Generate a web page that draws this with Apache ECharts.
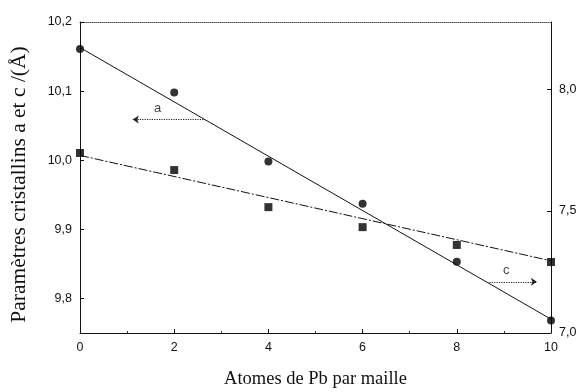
<!DOCTYPE html>
<html lang="fr">
<head>
    <meta charset="utf-8">
    <title>Paramètres cristallins</title>
    <script src="https://cdn.jsdelivr.net/npm/echarts@6/dist/echarts.min.js"></script>
    <style type="text/css">
        html, body { margin: 0; padding: 0; background: #fff; }
        #main { width: 580px; height: 392px; }
    </style>
</head>
<body>
<div id="main"></div>
<script type="text/javascript">
    // valeurs
    const xVals = [0, 2, 4, 6, 8, 10];
    const aVals = [10.161, 10.098, 9.998, 9.937, 9.853, 9.768];   // axe gauche
    const cVals = [7.738, 7.668, 7.516, 7.434, 7.361, 7.291];     // axe droit
    const fitX = [0, 10];
    const aFit = [10.163, 9.770];
    const cFit = [7.728, 7.296];
    const leftTicks = [9.8, 9.9, 10.0, 10.1, 10.2];
    const rightTicks = [7.0, 7.5, 8.0];
    // flèches et étiquettes a / c
    const arrowA = [[2.62, 10.059], [1.12, 10.059]];
    const labelA = [1.65, 10.075];
    const arrowC = [[8.64, 7.21], [9.70, 7.21]];
    const labelC = [9.05, 7.255];

    const comma = function (v) { return v.toFixed(1).replace('.', ','); };
    const tickFont = {fontFamily: 'Liberation Sans', fontSize: 12.5, color: '#111'};

    // étiquette texte seule (point invisible)
    function textMark(name, axis, txt, pos) {
        return {
            name: name, type: 'scatter', yAxisIndex: axis, symbolSize: 1, silent: true,
            itemStyle: {color: 'transparent'},
            label: {show: true, position: 'inside', formatter: txt,
                fontFamily: 'Liberation Sans', fontSize: 13, color: '#111'},
            data: [pos]
        };
    }

    function arrowLine(from, to) {
        return {
            silent: true, symbol: ['none', 'arrow'], symbolSize: 6,
            lineStyle: {color: '#222', type: 'dotted', width: 1.2}, label: {show: false},
            data: [[{coord: from}, {coord: to}]]
        };
    }

    let chart = echarts.init(document.getElementById('main'));
    chart.setOption({
        animation: false,
        grid: {left: 80, right: 29, top: 22, bottom: 59, outerBoundsMode: 'none'},
        xAxis: [{
            type: 'value', min: 0, max: 10, interval: 2,
            name: 'Atomes de Pb par maille', nameLocation: 'middle', nameGap: 37,
            nameTextStyle: {fontFamily: 'Liberation Serif', fontSize: 18.5, color: '#111'},
            axisLine: {onZero: false, lineStyle: {color: '#111', width: 1}},
            axisTick: {inside: true, length: 4, lineStyle: {color: '#111'}},
            minorTick: {show: true, splitNumber: 2, length: 2, lineStyle: {color: '#333'}},
            axisLabel: Object.assign({margin: 8}, tickFont),
            splitLine: {show: false}
        }, {
            type: 'value', min: 0, max: 10, position: 'top',
            axisLine: {show: true, onZero: false, lineStyle: {color: '#555', type: 'dotted', width: 1}},
            axisTick: {show: false}, axisLabel: {show: false}, splitLine: {show: false}
        }],
        yAxis: [{
            type: 'value', min: 9.75, max: 10.2, position: 'left',
            name: 'Paramètres cristallins a et c /(Å)', nameLocation: 'middle', nameGap: 50,
            nameTextStyle: {fontFamily: 'Liberation Serif', fontSize: 21.5, color: '#111', padding: [0, 14, 0, 0]},
            axisLine: {show: true, onZero: false, lineStyle: {color: '#111', width: 1}},
            axisTick: {inside: true, length: 4, customValues: leftTicks, lineStyle: {color: '#111'}},
            axisLabel: Object.assign({margin: 8, customValues: leftTicks, formatter: comma}, tickFont),
            splitLine: {show: false}
        }, {
            type: 'value', min: 7.0, max: 8.275, position: 'right',
            axisLine: {show: true, onZero: false, lineStyle: {color: '#111', width: 1}},
            axisTick: {inside: true, length: 4, customValues: rightTicks, lineStyle: {color: '#111'}},
            axisLabel: Object.assign({margin: 8, customValues: rightTicks, formatter: comma}, tickFont),
            splitLine: {show: false}
        }],
        series: [{
            name: 'a fit', type: 'line', yAxisIndex: 0, showSymbol: false, silent: true,
            data: fitX.map((x, i) => [x, aFit[i]]),
            lineStyle: {color: '#111', width: 1},
            markLine: arrowLine(arrowA[0], arrowA[1])
        }, {
            name: 'c fit', type: 'line', yAxisIndex: 1, showSymbol: false, silent: true,
            data: fitX.map((x, i) => [x, cFit[i]]),
            lineStyle: {color: '#111', width: 1, type: [9, 2, 2, 2]},
            markLine: arrowLine(arrowC[0], arrowC[1])
        }, {
            name: 'a', type: 'scatter', yAxisIndex: 0, symbol: 'circle', symbolSize: 8,
            itemStyle: {color: '#000'},
            data: xVals.map((x, i) => [x, aVals[i]])
        }, {
            name: 'c', type: 'scatter', yAxisIndex: 1, symbol: 'rect', symbolSize: 8,
            itemStyle: {color: '#000'},
            data: xVals.map((x, i) => [x, cVals[i]])
        },
            textMark('label a', 0, 'a', labelA),
            textMark('label c', 1, 'c', labelC)
        ]
    });
</script>
</body>
</html>
